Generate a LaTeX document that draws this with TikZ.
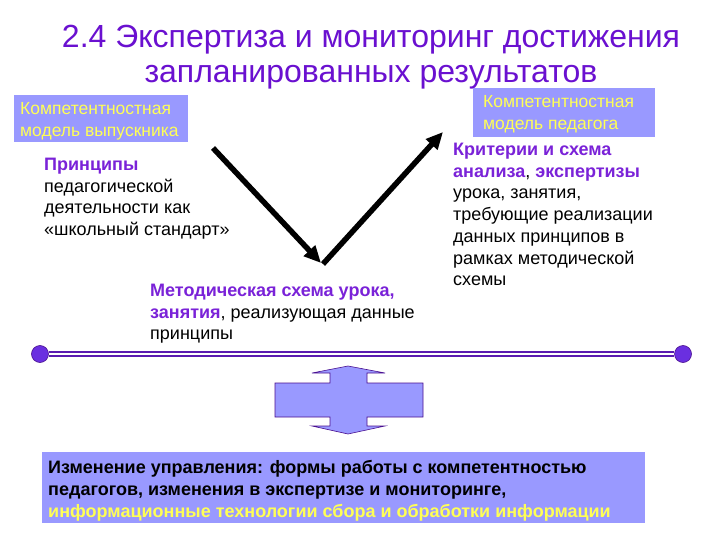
\documentclass[tikz,border=0pt]{standalone}
\usepackage{fontspec}
\setmainfont{Liberation Sans}
\usetikzlibrary{arrows.meta}
\definecolor{boxfill}{HTML}{9999FF}
\definecolor{ylw}{HTML}{FFFF55}
\definecolor{purp}{HTML}{7A22D8}
\definecolor{ttlc}{HTML}{6A10D0}
\definecolor{linec}{HTML}{5A1AB0}
\definecolor{dotc}{HTML}{6A2FE0}
\definecolor{edgec}{HTML}{4A1090}
\newcommand{\pb}[1]{\textcolor{purp}{\textbf{#1}}}
\begin{document}
\begin{tikzpicture}[x=1pt,y=-1pt,
  ttl/.style={inner sep=0pt, anchor=base, text=ttlc, font=\fontsize{32}{36}\selectfont},
  txt/.style={anchor=north west, align=left, inner sep=0pt, font=\fontsize{18}{21.7}\selectfont},
  bluebox/.style={fill=boxfill, draw=none},
  boxtxt/.style={anchor=north west, align=left, inner sep=0pt, text=ylw, font=\fontsize{17.5}{22}\selectfont},
  bigarrow/.style={line width=5.5pt, draw=black, -{Triangle[length=17pt,width=15pt]}},
  dot/.style={circle, fill=dotc, draw=edgec, line width=0.6pt, minimum width=16pt, minimum height=17pt, inner sep=0pt}
]
\useasboundingbox (0,0) rectangle (720,540);
\fill[white] (0,0) rectangle (720,540);

% title
\node[ttl] (t1) at (371,48) {2.4 Экспертиза и мониторинг достижения};
\node[ttl] (t2) at (371,83) {запланированных результатов};

% top boxes
\fill[bluebox] (14,95) rectangle (188,142);
\node[boxtxt] (bl) at (20,102) {Компетентностная\\модель выпускника};
\fill[bluebox] (473,88) rectangle (655,137);
\node[boxtxt] (br) at (483,95) {Компетентностная\\модель педагога};

% text blocks
\node[txt] (left) at (44,158) {\pb{Принципы}\\педагогической\\деятельности как\\«школьный стандарт»};
\node[txt] (mid) at (150,284) {\pb{Методическая схема урока,}\\\pb{занятия}, реализующая данные\\принципы};
\node[txt] (right) at (453,143) {\pb{Критерии и схема}\\\pb{анализа}, \pb{экспертизы}\\урока, занятия,\\требующие реализации\\данных принципов в\\рамках методической\\схемы};

% arrows
\coordinate (a1s) at (213,148);
\coordinate (a1e) at (321,263);
\coordinate (a2s) at (323,264);
\coordinate (a2e) at (443,132);
\draw[bigarrow] (a1s) -- (a1e);
\draw[bigarrow] (a2s) -- (a2e);

% horizontal double line with dots
\node[dot] (dl) at (40,354) {};
\node[dot] (dr) at (683,354) {};
\draw[linec, line width=1.4pt, double=white, double distance=2.4pt] (dl.east) -- (dr.west);

% up-down arrow callout
\filldraw[fill=boxfill, draw=edgec, line width=0.6pt]
  (348,366) -- (385,373) -- (367,373) -- (367,383) -- (423,383) -- (423,417)
  -- (367,417) -- (367,426) -- (385,426) -- (348,434) -- (312,426) -- (330,426)
  -- (330,417) -- (275,417) -- (275,383) -- (330,383) -- (330,373) -- (312,373) -- cycle;
\coordinate (ud) at (348,400);

% bottom box
\fill[bluebox] (42,452) rectangle (645,523);
\node[anchor=north west, align=left, inner sep=0pt, font=\bfseries\fontsize{18}{22}\selectfont] (bot) at (48,460)
 {Изменение управления: формы работы с компетентностью\\педагогов, изменения в экспертизе и мониторинге,\\\textcolor{ylw}{информационные технологии сбора и обработки информации}};
\end{tikzpicture}
\end{document}
